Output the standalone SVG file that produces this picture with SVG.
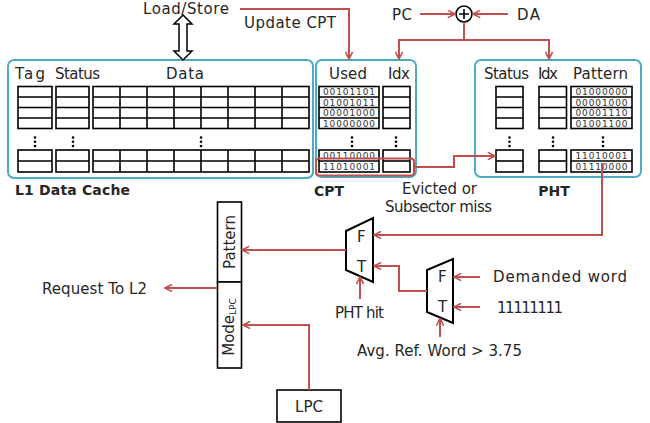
<svg xmlns="http://www.w3.org/2000/svg" width="650" height="423" viewBox="0 0 650 423">
<style>
text{font-family:"DejaVu Sans","Liberation Sans",sans-serif;fill:#262626;font-size:15px}
.b{font-weight:bold;font-size:14px}
.bin{font-size:9px;fill:#333;text-anchor:middle}
.box{fill:none;stroke:#4bacc6;stroke-width:2}
.cell{fill:#fff;stroke:#000;stroke-width:1.6}
.ln{fill:none;stroke:#000;stroke-width:1.6}
.red{fill:none;stroke:#c0504d;stroke-width:2}
.mux{fill:#fff;stroke:#000;stroke-width:2}
.dot{fill:#000}
</style>
<defs>
<marker id="ah" viewBox="0 0 10 10" refX="9" refY="5" markerWidth="9" markerHeight="9" orient="auto" markerUnits="userSpaceOnUse">
<path d="M1,1 L9,5 L1,9" fill="none" stroke="#c0504d" stroke-width="1.8"/>
</marker>
<g id="dots"><circle cx="0" cy="137.5" r="1.3"/><circle cx="0" cy="141.8" r="1.3"/><circle cx="0" cy="146" r="1.3"/></g>
</defs>
<rect width="650" height="423" fill="#fff"/>

<g id="l1cache">
<rect class="box" x="8" y="60" width="305" height="118" rx="6"/>
<text x="15" y="79" textLength="30">Tag</text>
<text x="55" y="79" textLength="45">Status</text>
<text x="166" y="79" textLength="38">Data</text>
<rect class="cell" x="18" y="86.5" width="34" height="42"/>
<path class="ln" d="M18,97H52M18,107.5H52M18,118H52"/>
<rect class="cell" x="56" y="86.5" width="33" height="42"/>
<path class="ln" d="M56,97H89M56,107.5H89M56,118H89"/>
<rect class="cell" x="93" y="86.5" width="216" height="42"/>
<path class="ln" d="M93,97H309M93,107.5H309M93,118H309M120,86.5V128.5M147,86.5V128.5M174,86.5V128.5M201,86.5V128.5M228,86.5V128.5M255,86.5V128.5M282,86.5V128.5"/>
<use href="#dots" x="35" class="dot"/>
<use href="#dots" x="73" class="dot"/>
<use href="#dots" x="201" class="dot"/>
<rect class="cell" x="18" y="150" width="34" height="22"/>
<path class="ln" d="M18,161H52"/>
<rect class="cell" x="56" y="150" width="33" height="22"/>
<path class="ln" d="M56,161H89"/>
<rect class="cell" x="93" y="150" width="216" height="22"/>
<path class="ln" d="M93,161H309M120,150V172M147,150V172M174,150V172M201,150V172M228,150V172M255,150V172M282,150V172"/>
<text class="b" x="15" y="195" textLength="115">L1 Data Cache</text>
</g>

<g id="loadstore">
<text x="143" y="14" textLength="86">Load/Store</text>
<polygon points="183,15 192,24 187,24 187,51 192,51 183,60 174,51 179,51 179,24 174,24" fill="#fff" stroke="#000" stroke-width="1.5"/>
</g>

<g id="cpt">
<rect class="box" x="316" y="60" width="100" height="117" rx="6"/>
<text x="329" y="79" textLength="38">Used</text>
<text x="388" y="79" textLength="22">Idx</text>
<rect class="cell" x="319" y="86.5" width="60" height="42"/>
<path class="ln" d="M319,97H379M319,107.5H379M319,118H379"/>
<rect class="cell" x="383" y="86.5" width="27" height="42"/>
<path class="ln" d="M383,97H410M383,107.5H410M383,118H410"/>
<text class="bin" x="349" y="95" textLength="52">00101101</text>
<text class="bin" x="349" y="105.5" textLength="52">01001011</text>
<text class="bin" x="349" y="116" textLength="52">00001000</text>
<text class="bin" x="349" y="126.5" textLength="52">10000000</text>
<use href="#dots" x="352" class="dot"/>
<use href="#dots" x="396" class="dot"/>
<rect class="cell" x="319" y="150" width="60" height="22"/>
<path class="ln" d="M319,161H379"/>
<rect class="cell" x="383" y="150" width="27" height="22"/>
<path class="ln" d="M383,161H410"/>
<text class="bin" x="349" y="159" textLength="52">00110000</text>
<text class="bin" x="349" y="170" textLength="52">11010001</text>
<rect x="316" y="158.5" width="98" height="17" rx="3" fill="none" stroke="#c0504d" stroke-width="2"/>
<text class="b" x="329" y="196" text-anchor="middle">CPT</text>
</g>

<g id="pht">
<rect class="box" x="475" y="60" width="166" height="117" rx="6"/>
<text x="484" y="79" textLength="45">Status</text>
<text x="538" y="79" textLength="20">Idx</text>
<text x="573" y="79" textLength="55">Pattern</text>
<rect class="cell" x="496" y="86.5" width="27" height="42"/>
<path class="ln" d="M496,97H523M496,107.5H523M496,118H523"/>
<rect class="cell" x="539" y="86.5" width="27.5" height="42"/>
<path class="ln" d="M539,97H566.5M539,107.5H566.5M539,118H566.5"/>
<rect class="cell" x="571" y="86.5" width="61" height="42"/>
<path class="ln" d="M571,97H632M571,107.5H632M571,118H632"/>
<text class="bin" x="601.5" y="95" textLength="52">01000000</text>
<text class="bin" x="601.5" y="105.5" textLength="52">00001000</text>
<text class="bin" x="601.5" y="116" textLength="52">00001110</text>
<text class="bin" x="601.5" y="126.5" textLength="52">01001100</text>
<use href="#dots" x="509.5" class="dot"/>
<use href="#dots" x="553" class="dot"/>
<use href="#dots" x="603" class="dot"/>
<rect class="cell" x="496" y="150" width="27" height="22"/>
<path class="ln" d="M496,161H523"/>
<rect class="cell" x="539" y="150" width="27.5" height="22"/>
<path class="ln" d="M539,161H566.5"/>
<rect class="cell" x="571" y="150" width="61" height="22"/>
<path class="ln" d="M571,161H632"/>
<text class="bin" x="601.5" y="159" textLength="52">11010001</text>
<text class="bin" x="601.5" y="170" textLength="52">01110000</text>
<text class="b" x="554" y="196" text-anchor="middle">PHT</text>
</g>

<g id="adder">
<text x="392" y="20" textLength="20">PC</text>
<text x="517" y="20" textLength="23">DA</text>
<circle cx="464" cy="14" r="8" fill="#fff" stroke="#000" stroke-width="1.6"/>
<path d="M459,14H469M464,9V19" stroke="#000" stroke-width="1.6"/>
</g>

<g id="labels">
<text x="244" y="28" textLength="92">Update CPT</text>
<text x="402" y="194" textLength="75">Evicted or</text>
<text x="385" y="212" textLength="107">Subsector miss</text>
<text x="335" y="318" textLength="49">PHT hit</text>
<text x="493" y="282" textLength="134">Demanded word</text>
<text x="497" y="313" textLength="66">11111111</text>
<text x="357" y="356" textLength="165">Avg. Ref. Word &gt; 3.75</text>
<text x="42" y="294" textLength="105">Request To L2</text>
</g>

<g id="mux1">
<polygon class="mux" points="346,231 373,218 373,282 346,270"/>
<text x="357" y="242">F</text>
<text x="357" y="272">T</text>
</g>

<g id="mux2">
<polygon class="mux" points="427,270 453,259 453,323 427,312"/>
<text x="438" y="282">F</text>
<text x="438" y="312">T</text>
</g>

<g id="register">
<rect class="cell" x="217.5" y="202" width="24" height="80" stroke-width="2"/>
<rect class="cell" x="217.5" y="282" width="24" height="86" stroke-width="2"/>
<text transform="translate(234.5,242) rotate(-90)" text-anchor="middle" font-size="14">Pattern</text>
<text transform="translate(234,327) rotate(-90)" text-anchor="middle">Mode<tspan font-size="9" dy="2">LPC</tspan></text>
</g>

<g id="lpc">
<rect class="cell" x="277" y="390" width="64" height="32" stroke-width="2"/>
<text x="309" y="412" text-anchor="middle">LPC</text>
</g>

<g id="connectors">
<path class="red" d="M240,9H349V59" marker-end="url(#ah)"/>
<path class="red" d="M420,14H455" marker-end="url(#ah)"/>
<path class="red" d="M508,14H473" marker-end="url(#ah)"/>
<path class="red" d="M464,22V40H399V59" marker-end="url(#ah)"/>
<path class="red" d="M464,40H549V59" marker-end="url(#ah)"/>
<path class="red" d="M414,167H454V156H495" marker-end="url(#ah)"/>
<path class="red" d="M602,163V235H374" marker-end="url(#ah)"/>
<path class="red" d="M427,291H399V266H374" marker-end="url(#ah)"/>
<path class="red" d="M360,299V277" marker-end="url(#ah)"/>
<path class="red" d="M480,277H454" marker-end="url(#ah)"/>
<path class="red" d="M480,307H454" marker-end="url(#ah)"/>
<path class="red" d="M440,337V318.5" marker-end="url(#ah)"/>
<path class="red" d="M346,250H242" marker-end="url(#ah)"/>
<path class="red" d="M217,288H165" marker-end="url(#ah)"/>
<path class="red" d="M309,390V325H243" marker-end="url(#ah)"/>
</g>
</svg>
